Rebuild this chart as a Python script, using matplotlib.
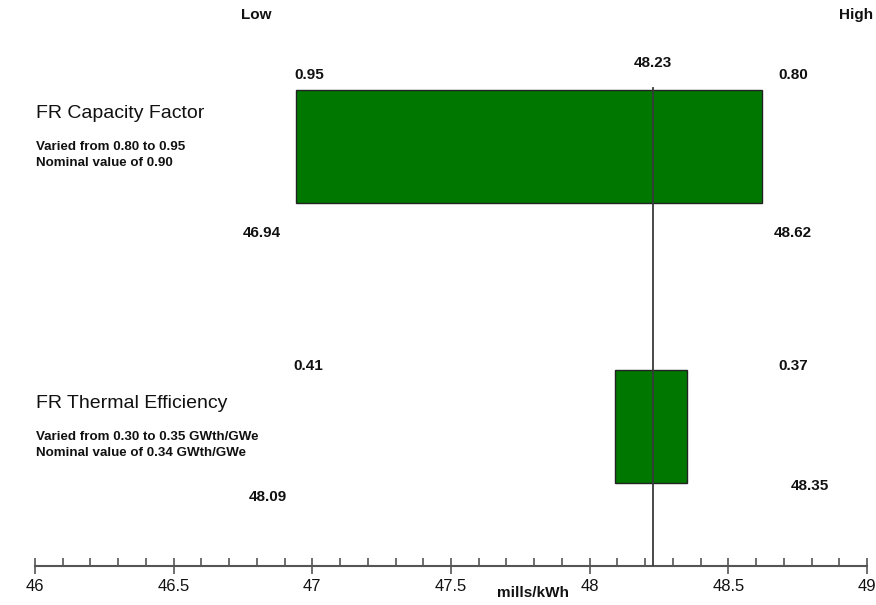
import matplotlib
matplotlib.use("Agg")
import matplotlib.pyplot as plt
from matplotlib.ticker import MultipleLocator, FuncFormatter

plt.rcParams['font.family'] = ['Liberation Sans', 'DejaVu Sans']

# Tornado chart data (mills/kWh)
parameters = ["FR Thermal Efficiency", "FR Capacity Factor"]
descriptions = [
    ["Varied from 0.30 to 0.35 GWth/GWe", "Nominal value of 0.34 GWth/GWe"],
    ["Varied from 0.80 to 0.95", "Nominal value of 0.90"],
]
cost_low = [48.09, 46.94]      # cost at the low end of each bar
cost_high = [48.35, 48.62]     # cost at the high end of each bar
input_at_low = ["0.41", "0.95"]
input_at_high = ["0.37", "0.80"]
nominal_cost = 48.23
x_min, x_max = 46, 49
axis_label = "mills/kWh"

W, H = 876, 605
fig = plt.figure(figsize=(W / 100, H / 100), dpi=100)
fig.patch.set_facecolor("white")


def fx(x):
    return x / W


def fy(y):
    return 1 - y / H


ax_bottom = 566
ax = fig.add_axes([fx(35), fy(ax_bottom), fx(867) - fx(35), fy(0) - fy(ax_bottom)])
ax.set_xlim(x_min, x_max)
ax.set_ylim(-0.498, 1.523)
ax.patch.set_alpha(0)

bar_h = 0.404
ypos = list(range(len(parameters)))
widths = [h - l for l, h in zip(cost_low, cost_high)]
ax.barh(ypos, widths, left=cost_low, height=bar_h, color="#007800",
        edgecolor="#222222", linewidth=1.0, zorder=2)

# nominal-value line
ax.axvline(nominal_cost, ymin=0, ymax=(1 + bar_h / 2 + 0.006 + 0.498) / 2.021,
           color="#3a3a3a", lw=1.3, zorder=3)

# axis styling: only a bottom axis line with ticks
for s in ["top", "right", "left"]:
    ax.spines[s].set_visible(False)
ax.spines["bottom"].set_color("#555555")
ax.spines["bottom"].set_linewidth(1.5)
ax.set_yticks([])
ax.xaxis.set_major_locator(MultipleLocator(0.5))
ax.xaxis.set_minor_locator(MultipleLocator(0.1))
ax.xaxis.set_major_formatter(FuncFormatter(lambda v, p: f"{v:g}"))
ax.tick_params(axis="x", which="major", direction="inout", length=11, width=1.2,
               color="#555555", labelsize=12, pad=4, labelcolor="#111111")
ax.tick_params(axis="x", which="minor", direction="in", length=6, width=1.2,
               color="#555555")

# header labels
bold = dict(fontweight="bold", color="#111111", ha="center", va="center")
fig.text(fx(256), fy(15), "Low", fontsize=11, **bold)
fig.text(fx(856), fy(15), "High", fontsize=11, **bold)
fig.text(fx(653), fy(63), f"{nominal_cost:.2f}", fontsize=11, **bold)
fig.text(fx(533), fy(593), axis_label, fontsize=11, **bold)

# value labels near bar ends (index 1 = top bar, index 0 = bottom bar)
fig.text(fx(309), fy(75), input_at_low[1], fontsize=11, **bold)
fig.text(fx(793), fy(75), input_at_high[1], fontsize=11, **bold)
fig.text(fx(262), fy(233), f"{cost_low[1]:.2f}", fontsize=11, **bold)
fig.text(fx(793), fy(233), f"{cost_high[1]:.2f}", fontsize=11, **bold)

fig.text(fx(308), fy(366), input_at_low[0], fontsize=11, **bold)
fig.text(fx(793), fy(366), input_at_high[0], fontsize=11, **bold)
fig.text(fx(268), fy(497), f"{cost_low[0]:.2f}", fontsize=11, **bold)
fig.text(fx(810), fy(486), f"{cost_high[0]:.2f}", fontsize=11, **bold)

# parameter names and descriptions
name_y = {1: 113, 0: 403}
for i in ypos:
    fig.text(fx(36), fy(name_y[i]), parameters[i], fontsize=14, color="#111111",
             ha="left", va="center")
    for k, line in enumerate(descriptions[i]):
        fig.text(fx(36), fy(name_y[i] + 34 + 15.5 * k), line, fontsize=9.6,
                 fontweight="bold", color="#111111", ha="left", va="center")

fig.savefig("out.png", dpi=100, facecolor="white")
